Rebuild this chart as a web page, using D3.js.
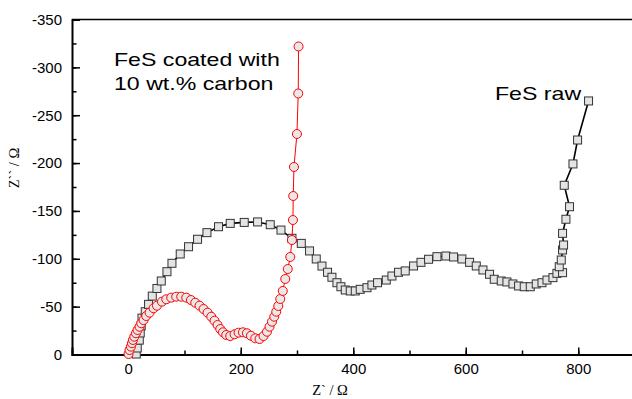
<!DOCTYPE html>
<html>
<head>
<meta charset="utf-8">
<script src="https://cdn.jsdelivr.net/npm/d3@7"></script>
<style>
  body { margin: 0; background: #fff; }
  svg { display: block; }
</style>
</head>
<body>
<div id="chart"></div>
<script>
// data: Z' (ohm) and Z'' (ohm, negative up)
var rawRe = [14.2, 16, 19.6, 21.3, 23, 24.4, 30.2, 36.1, 42.7, 51, 58.7, 68.8, 77.7, 92.4, 107.2, 123.2, 139.9, 160.5, 181.3, 206.2, 229.9, 252.4, 271.5, 291, 307.6, 322.3, 334.2, 344.4, 354.3, 362.1, 371, 378.1, 385.8, 394.7, 403.6, 412.4, 424.4, 433.2, 443.2, 458.7, 468.8, 480.5, 492.4, 507.2, 520.4, 533.9, 548.8, 564.8, 578.3, 593.2, 606.8, 618.7, 630.6, 642.3, 650.7, 663.1, 673.2, 683.9, 693.9, 704, 714.7, 725.3, 735.5, 744.4, 755, 762.1, 772.1, 766.2, 769.8, 772.1, 773.9, 772.1, 778.1, 784.5, 775.1, 790.6, 798.8, 818.3]
var rawIm = [-0.5, -6.8, -15, -22.5, -30, -38, -44.7, -52.4, -61, -69, -76.8, -86.5, -95.3, -105, -112.6, -120.4, -127.3, -133.5, -137, -138, -138.5, -135.6, -130, -121.4, -116.1, -108.2, -99.8, -92.4, -85.9, -80.7, -75, -70.8, -67.4, -66.4, -66.4, -68.1, -69.8, -72.6, -75, -77.8, -82, -85.9, -87.3, -92.5, -96.3, -99.5, -102.2, -102.9, -101.9, -99.8, -96.3, -92.5, -88.3, -83.8, -78.6, -76.8, -75.8, -73.7, -71.6, -70.8, -70.8, -73.7, -75, -77.8, -80.3, -84.8, -85.5, -91.7, -98.7, -109.2, -114.4, -126.6, -141.3, -154.4, -176.8, -199.1, -224.1, -264.9]

var coatRe = [0.5, 2.3, 4.8, 6.6, 8.4, 10.7, 13.7, 16.5, 20.1, 23.1, 27.2, 32, 37.9, 45, 51, 59.9, 67.6, 76.4, 85.3, 94.2, 103.1, 111.5, 119.1, 126.8, 133.9, 141, 147.6, 153.4, 158.8, 163.6, 168.4, 174.2, 181.3, 189, 196.1, 203.9, 211, 218.1, 225.8, 233.4, 240.5, 246.6, 251.2, 255.5, 259.6, 263.1, 266.7, 270.2, 274.7, 279.1, 283.6, 288, 291, 292.8, 293.3, 294.6, 299.9, 302.2, 302.8]
var coatIm = [-0.5, -4.7, -8.2, -11.8, -15.2, -18.6, -22.2, -25.6, -29, -32.6, -36, -40.2, -43.7, -48.3, -51, -55.2, -57.7, -59.4, -60.4, -60.4, -59.4, -56.9, -54.1, -51, -47.5, -43.7, -39.5, -35.3, -30.8, -26.6, -23.2, -20.4, -19.3, -21.1, -22.8, -23.2, -22.2, -19.6, -16.9, -16.2, -19.3, -23.8, -29, -34.3, -39.5, -44.7, -50.7, -58, -66.4, -78.9, -89.3, -101.9, -119.6, -140.5, -165.6, -195.9, -230.4, -272.7, -321.8]

var xTicks = [0, 200, 400, 600, 800]
var yTicks = [0, -50, -100, -150, -200, -250, -300, -350]

var rawData = rawRe.map(function(d, i) { return [d, rawIm[i]] })
var coatData = coatRe.map(function(d, i) { return [d, coatIm[i]] })

var visWidth = 632,
    visHeight = 399

var vis = d3.select('#chart')
  .append('svg')
    .attr('width', visWidth)
    .attr('height', visHeight)

// scales
var x = d3.scaleLinear().domain([-100, 900]).range([72, 634.5])
var y = d3.scaleLinear().domain([0, -350]).range([354.5, 19.5])

// frame (top edge)
vis.append('line')
  .attr('x1', x(-100)).attr('x2', visWidth)
  .attr('y1', y(-350)).attr('y2', y(-350))
  .attr('stroke', '#000')
  .attr('stroke-width', 1.5)

// minor ticks
vis.append('g')
    .attr('transform', 'translate(0,' + y(0) + ')')
    .call(d3.axisBottom(x).tickValues(d3.range(-100, 901, 100)).tickSize(-4).tickFormat(''))
    .call(function(g) { g.select('.domain').remove() })
vis.append('g')
    .attr('transform', 'translate(' + x(-100) + ',0)')
    .call(d3.axisLeft(y).tickValues(d3.range(0, -351, -25)).tickSize(-4.5).tickFormat(''))
    .call(function(g) { g.select('.domain').remove() })

// major axes
var xAxis = vis.append('g')
    .attr('transform', 'translate(0,' + y(0) + ')')
    .call(d3.axisBottom(x).tickValues(xTicks).tickSize(-7).tickPadding(9).tickFormat(function(d) { return String(d) }))
var yAxis = vis.append('g')
    .attr('transform', 'translate(' + x(-100) + ',0)')
    .call(d3.axisLeft(y).tickValues(yTicks).tickSize(-8).tickPadding(10).tickFormat(function(d) { return String(d) }))

vis.selectAll('.domain').attr('stroke-width', 2)
vis.selectAll('.tick line').attr('stroke-width', 1.5)
vis.selectAll('.tick text')
  .attr('font-family', 'Liberation Sans, Arial, sans-serif')
  .attr('font-size', 15)
  .attr('fill', '#000')

// raw FeS
var line = d3.line()
  .x(function(d) { return x(d[0]) })
  .y(function(d) { return y(d[1]) })

vis.append('path')
  .datum(rawData)
  .attr('d', line)
  .attr('fill', 'none')
  .attr('stroke', '#000')
  .attr('stroke-width', 1.6)

vis.selectAll('.sq')
    .data(rawData).enter()
  .append('rect')
    .attr('class', 'sq')
    .attr('x', function(d) { return x(d[0]) - 4 })
    .attr('y', function(d) { return y(d[1]) - 4 })
    .attr('width', 8)
    .attr('height', 8)
    .attr('fill', '#e4e4e4')
    .attr('stroke', '#333')
    .attr('stroke-width', 1)

// carbon coated FeS
vis.append('path')
  .datum(coatData)
  .attr('d', line)
  .attr('fill', 'none')
  .attr('stroke', '#ff0000')
  .attr('stroke-width', 1)

vis.selectAll('.ci')
    .data(coatData).enter()
  .append('circle')
    .attr('class', 'ci')
    .attr('cx', function(d) { return x(d[0]) })
    .attr('cy', function(d) { return y(d[1]) })
    .attr('r', 4.5)
    .attr('fill', '#e8e8e8')
    .attr('stroke', '#ff0000')
    .attr('stroke-width', 1)

// labels
var labelFont = 'Liberation Sans, Arial, sans-serif'
function label(txt, lx, ly) {
  vis.append('text')
    .attr('transform', 'translate(' + lx + ',' + ly + ') scale(1.25,1)')
    .attr('font-family', labelFont)
    .attr('font-size', 18.5)
    .text(txt)
}
label('FeS coated with', 114, 66)
label('10 wt.% carbon', 114, 89.5)
label('FeS raw', 495, 100)

// axis titles
vis.append('text')
  .attr('x', 330).attr('y', 395)
  .attr('text-anchor', 'middle')
  .attr('font-family', 'Liberation Serif, Times New Roman, serif')
  .attr('font-size', 14.5)
  .text('Z` / Ω')

vis.append('text')
  .attr('transform', 'translate(19,168) rotate(-90)')
  .attr('text-anchor', 'middle')
  .attr('font-family', 'Liberation Serif, Times New Roman, serif')
  .attr('font-size', 14.5)
  .text('Z`` / Ω')
</script>
</body>
</html>
